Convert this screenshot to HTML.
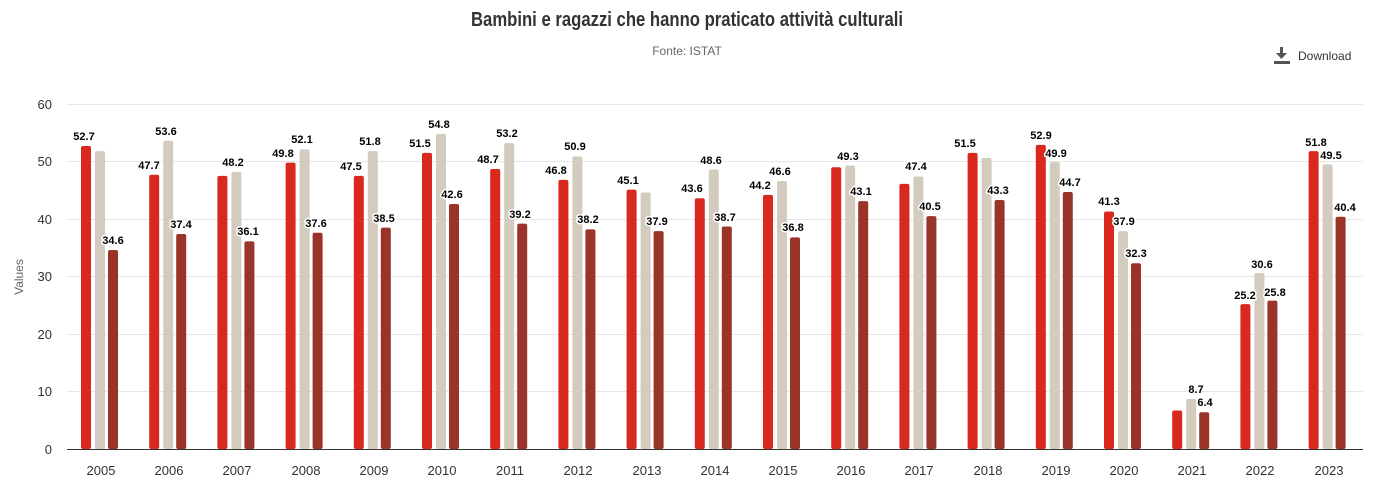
<!DOCTYPE html>
<html><head><meta charset="utf-8"><style>
html,body{margin:0;padding:0;background:#fff;width:1374px;height:500px;overflow:hidden}
svg{display:block}
.lb{font:bold 11px "Liberation Sans",sans-serif;fill:#000;stroke:#fff;stroke-width:3px;paint-order:stroke;stroke-linejoin:round;text-anchor:middle}
.ax{font:13px "Liberation Sans",sans-serif;fill:#333}
</style></head><body>
<svg width="1374" height="500" xmlns="http://www.w3.org/2000/svg">
<text x="687" y="26" text-anchor="middle" textLength="432" lengthAdjust="spacingAndGlyphs" style="font:bold 20px 'Liberation Sans Narrow','Liberation Sans',sans-serif;fill:#333">Bambini e ragazzi che hanno praticato attività culturali</text>
<text x="687" y="55" text-anchor="middle" style="font:12px 'Liberation Sans',sans-serif;fill:#666">Fonte: ISTAT</text>
<g fill="#555"><rect x="1280" y="47" width="3" height="8"/><polygon points="1276,53 1287,53 1281.5,59"/><rect x="1274" y="61" width="16" height="3"/></g>
<text x="1298" y="60" style="font:12px 'Liberation Sans',sans-serif;fill:#333">Download</text>
<g stroke="#e6e6e6" stroke-width="1">
<line x1="67" x2="1363" y1="104.5" y2="104.5"/><line x1="67" x2="1363" y1="161.5" y2="161.5"/><line x1="67" x2="1363" y1="219.5" y2="219.5"/><line x1="67" x2="1363" y1="276.5" y2="276.5"/><line x1="67" x2="1363" y1="334.5" y2="334.5"/><line x1="67" x2="1363" y1="391.5" y2="391.5"/>
</g>
<g class="ax" text-anchor="end">
<text x="52" y="109">60</text><text x="52" y="166">50</text><text x="52" y="224">40</text><text x="52" y="281">30</text><text x="52" y="339">20</text><text x="52" y="396">10</text><text x="52" y="454">0</text>
</g>
<text transform="translate(23,277) rotate(-90)" text-anchor="middle" style="font:12px 'Liberation Sans',sans-serif;fill:#666">Values</text>
<g transform="matrix(1,0,0,-5.75,0,449)">
<g fill="#d9291e">
<rect x="81" width="10" height="52.7" rx="2" ry="0.35"/><rect x="149.2" width="10" height="47.7" rx="2" ry="0.35"/><rect x="217.4" width="10" height="47.5" rx="2" ry="0.35"/><rect x="285.6" width="10" height="49.8" rx="2" ry="0.35"/><rect x="353.8" width="10" height="47.5" rx="2" ry="0.35"/><rect x="422" width="10" height="51.5" rx="2" ry="0.35"/><rect x="490.2" width="10" height="48.7" rx="2" ry="0.35"/><rect x="558.4" width="10" height="46.8" rx="2" ry="0.35"/><rect x="626.6" width="10" height="45.1" rx="2" ry="0.35"/><rect x="694.8" width="10" height="43.6" rx="2" ry="0.35"/><rect x="763" width="10" height="44.2" rx="2" ry="0.35"/><rect x="831.2" width="10" height="49.0" rx="2" ry="0.35"/><rect x="899.4" width="10" height="46.1" rx="2" ry="0.35"/><rect x="967.6" width="10" height="51.5" rx="2" ry="0.35"/><rect x="1035.8" width="10" height="52.9" rx="2" ry="0.35"/><rect x="1104" width="10" height="41.3" rx="2" ry="0.35"/><rect x="1172.2" width="10" height="6.7" rx="2" ry="0.35"/><rect x="1240.4" width="10" height="25.2" rx="2" ry="0.35"/><rect x="1308.6" width="10" height="51.8" rx="2" ry="0.35"/>
</g>
<g fill="#d3ccbe">
<rect x="95" width="10" height="51.8" rx="2" ry="0.35"/><rect x="163.2" width="10" height="53.6" rx="2" ry="0.35"/><rect x="231.4" width="10" height="48.2" rx="2" ry="0.35"/><rect x="299.6" width="10" height="52.1" rx="2" ry="0.35"/><rect x="367.8" width="10" height="51.8" rx="2" ry="0.35"/><rect x="436" width="10" height="54.8" rx="2" ry="0.35"/><rect x="504.2" width="10" height="53.2" rx="2" ry="0.35"/><rect x="572.4" width="10" height="50.9" rx="2" ry="0.35"/><rect x="640.6" width="10" height="44.6" rx="2" ry="0.35"/><rect x="708.8" width="10" height="48.6" rx="2" ry="0.35"/><rect x="777" width="10" height="46.6" rx="2" ry="0.35"/><rect x="845.2" width="10" height="49.3" rx="2" ry="0.35"/><rect x="913.4" width="10" height="47.4" rx="2" ry="0.35"/><rect x="981.6" width="10" height="50.6" rx="2" ry="0.35"/><rect x="1049.8" width="10" height="49.9" rx="2" ry="0.35"/><rect x="1118" width="10" height="37.9" rx="2" ry="0.35"/><rect x="1186.2" width="10" height="8.7" rx="2" ry="0.35"/><rect x="1254.4" width="10" height="30.6" rx="2" ry="0.35"/><rect x="1322.6" width="10" height="49.5" rx="2" ry="0.35"/>
</g>
<g fill="#9a3328">
<rect x="108" width="10" height="34.6" rx="2" ry="0.35"/><rect x="176.2" width="10" height="37.4" rx="2" ry="0.35"/><rect x="244.4" width="10" height="36.1" rx="2" ry="0.35"/><rect x="312.6" width="10" height="37.6" rx="2" ry="0.35"/><rect x="380.8" width="10" height="38.5" rx="2" ry="0.35"/><rect x="449" width="10" height="42.6" rx="2" ry="0.35"/><rect x="517.2" width="10" height="39.2" rx="2" ry="0.35"/><rect x="585.4" width="10" height="38.2" rx="2" ry="0.35"/><rect x="653.6" width="10" height="37.9" rx="2" ry="0.35"/><rect x="721.8" width="10" height="38.7" rx="2" ry="0.35"/><rect x="790" width="10" height="36.8" rx="2" ry="0.35"/><rect x="858.2" width="10" height="43.1" rx="2" ry="0.35"/><rect x="926.4" width="10" height="40.5" rx="2" ry="0.35"/><rect x="994.6" width="10" height="43.3" rx="2" ry="0.35"/><rect x="1062.8" width="10" height="44.7" rx="2" ry="0.35"/><rect x="1131" width="10" height="32.3" rx="2" ry="0.35"/><rect x="1199.2" width="10" height="6.4" rx="2" ry="0.35"/><rect x="1267.4" width="10" height="25.8" rx="2" ry="0.35"/><rect x="1335.6" width="10" height="40.4" rx="2" ry="0.35"/>
</g>
</g>
<line x1="67" x2="1363" y1="449.5" y2="449.5" stroke="#333" stroke-width="1"/>
<g class="lb">
<text x="84" y="140">52.7</text><text x="113" y="244">34.6</text>
<text x="149" y="169">47.7</text><text x="166" y="135">53.6</text><text x="181" y="228">37.4</text>
<text x="233" y="166">48.2</text><text x="248" y="235">36.1</text>
<text x="283" y="157">49.8</text><text x="302" y="143">52.1</text><text x="316" y="227">37.6</text>
<text x="351" y="170">47.5</text><text x="370" y="145">51.8</text><text x="384" y="222">38.5</text>
<text x="420" y="147">51.5</text><text x="439" y="128">54.8</text><text x="452" y="198">42.6</text>
<text x="488" y="163">48.7</text><text x="507" y="137">53.2</text><text x="520" y="218">39.2</text>
<text x="556" y="174">46.8</text><text x="575" y="150">50.9</text><text x="588" y="223">38.2</text>
<text x="628" y="184">45.1</text><text x="657" y="225">37.9</text>
<text x="692" y="192">43.6</text><text x="711" y="164">48.6</text><text x="725" y="221">38.7</text>
<text x="760" y="189">44.2</text><text x="780" y="175">46.6</text><text x="793" y="231">36.8</text>
<text x="848" y="160">49.3</text><text x="861" y="195">43.1</text>
<text x="916" y="170">47.4</text><text x="930" y="210">40.5</text>
<text x="965" y="147">51.5</text><text x="998" y="194">43.3</text>
<text x="1041" y="139">52.9</text><text x="1056" y="157">49.9</text><text x="1070" y="186">44.7</text>
<text x="1109" y="205">41.3</text><text x="1124" y="225">37.9</text><text x="1136" y="257">32.3</text>
<text x="1196" y="393">8.7</text><text x="1205" y="406">6.4</text>
<text x="1245" y="299">25.2</text><text x="1262" y="268">30.6</text><text x="1275" y="296">25.8</text>
<text x="1316" y="146">51.8</text><text x="1331" y="159">49.5</text><text x="1345" y="211">40.4</text>
</g>
<g class="ax" text-anchor="middle">
<text x="101" y="475">2005</text><text x="169" y="475">2006</text><text x="237" y="475">2007</text><text x="306" y="475">2008</text><text x="374" y="475">2009</text><text x="442" y="475">2010</text><text x="510" y="475">2011</text><text x="578" y="475">2012</text><text x="647" y="475">2013</text><text x="715" y="475">2014</text><text x="783" y="475">2015</text><text x="851" y="475">2016</text><text x="919" y="475">2017</text><text x="988" y="475">2018</text><text x="1056" y="475">2019</text><text x="1124" y="475">2020</text><text x="1192" y="475">2021</text><text x="1260" y="475">2022</text><text x="1329" y="475">2023</text>
</g>
</svg>
</body></html>
